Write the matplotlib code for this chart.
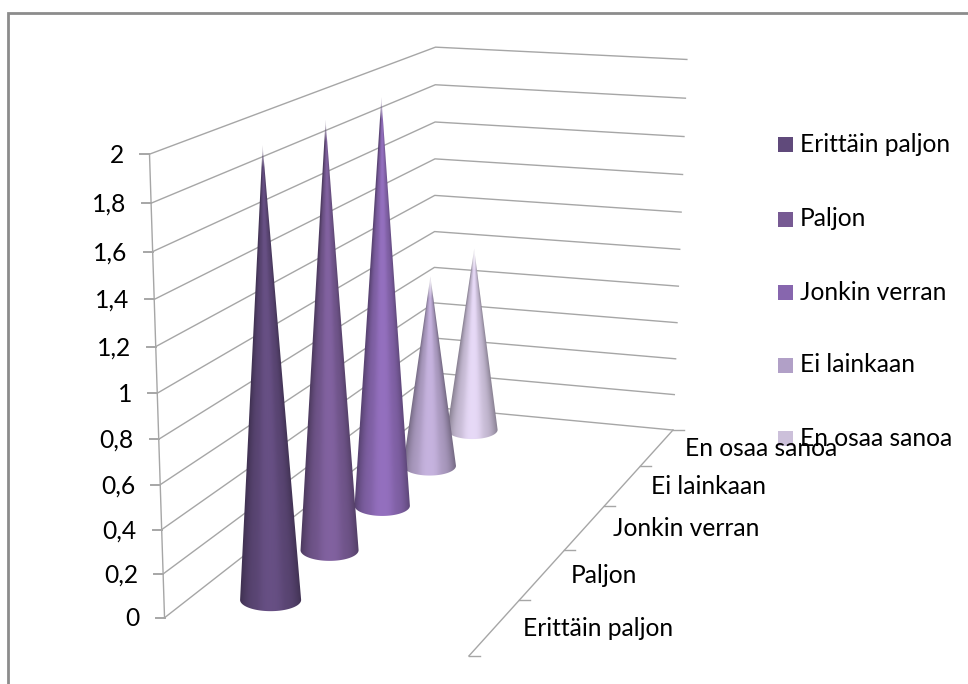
import numpy as np
import matplotlib
matplotlib.use("Agg")
import matplotlib.pyplot as plt
from matplotlib.patches import Polygon, Rectangle

plt.rcParams['font.family'] = ['Lato', 'DejaVu Sans']

categories = ['Erittäin paljon', 'Paljon', 'Jonkin verran', 'Ei lainkaan', 'En osaa sanoa']
values = [2, 2, 2, 1, 1]
colors = ['#604A7B', '#775A93', '#8766AE', '#B1A0C7', '#CCC0DA']
value_ticks = [0, 0.2, 0.4, 0.6, 0.8, 1, 1.2, 1.4, 1.6, 1.8, 2]
value_labels = ['0', '0,2', '0,4', '0,6', '0,8', '1', '1,2', '1,4', '1,6', '1,8', '2']
legend_y = [144, 219, 292, 365, 438]

FONT = 17.7
GRID = '#a6a6a6'
CONE_X = 0.25
RAD_X = 0.105
FLATTEN = 0.37

# box corners (width, depth, value) and where they land on the canvas
world = [(0, 0, 0), (1, 0, 0), (1, 1, 0), (0, 1, 0), (0, 0, 2), (0, 1, 2), (1, 1, 2)]
screen = [(163, 615), (470, 658), (672, 428), (435, 410), (150, 155), (435, 46), (687, 60)]


def fit_camera(world, screen):
    rows = []
    rhs = []
    for (a, b, c), (u, v) in zip(world, screen):
        rows.append([a, b, c, 1, 0, 0, 0, 0, -u * a, -u * b, -u * c])
        rows.append([0, 0, 0, 0, a, b, c, 1, -v * a, -v * b, -v * c])
        rhs += [u, v]
    sol = np.linalg.lstsq(np.array(rows, float), np.array(rhs, float), rcond=None)[0]
    return np.append(sol, 1).reshape(3, 4)


cam = fit_camera(world, screen)


def proj(a, b, c):
    p = cam @ np.array([a, b, c, 1.0])
    return p[0] / p[2], p[1] / p[2]


def draw_cone(ax, depth, height, color):
    base_rgb = np.array(matplotlib.colors.to_rgb(color))
    ax_x, ax_y = proj(CONE_X, depth, height)
    cx, cy = proj(CONE_X, depth, 0)
    half = (proj(CONE_X + RAD_X, depth, 0)[0] - proj(CONE_X - RAD_X, depth, 0)[0]) / 2
    # only the near half of the rim shows, as a level ellipse
    th = np.linspace(0, np.pi, 121)
    rim = np.column_stack([cx + half * np.cos(th), cy + half * FLATTEN * np.sin(th)])
    outline = np.vstack([[(ax_x, ax_y)], rim])

    # shading runs across the cone and narrows towards the tip
    x0, x1 = outline[:, 0].min() - 1, outline[:, 0].max() + 1
    y0, y1 = ax_y - 1, outline[:, 1].max() + 1
    xs = np.linspace(x0, x1, int((x1 - x0) * 3))
    ys = np.linspace(y0, y1, int((y1 - y0) * 2))
    gx, gy = np.meshgrid(xs, ys)
    frac = np.clip((gy - ax_y) / (cy - ax_y), 0.001, 1)
    axis_x = ax_x + (cx - ax_x) * frac
    u = np.clip((gx - axis_x) / (half * frac), -1, 1)
    peak = 1.02 + 0.14 * base_rgb.mean()
    shade = 0.66 + (peak - 0.66) * (1 - np.abs(u) ** 2.2)
    shade -= 0.05 * np.exp(-((np.abs(u) - 0.45) / 0.18) ** 2)
    img = np.zeros(gx.shape + (4,))
    for c in range(3):
        img[..., c] = np.clip(base_rgb[c] * shade, 0, 1)
    # the very tip fades out
    img[..., 3] = np.clip((gy - ax_y) / 22, 0.25, 1)

    im = ax.imshow(img, extent=(x0, x1, y1, y0), origin='upper', aspect='auto',
                   interpolation='bilinear', zorder=3)
    im.set_clip_path(Polygon(outline, closed=True, transform=ax.transData))


fig = plt.figure(figsize=(9.68, 6.84), dpi=100)
ax = fig.add_axes([0, 0, 1, 1])
ax.axis('off')

# outer frame, only left and top fall on the canvas
ax.plot([8, 8, 968], [684, 13, 13], color='#8c8c8c', lw=2, solid_joinstyle='miter')

# walls and value axis
for t, lab in zip(value_ticks, value_labels):
    x0, y0 = proj(0, 0, t)
    x1, y1 = proj(0, 1, t)
    x2, y2 = proj(1, 1, t)
    ax.plot([x0, x1, x2], [y0, y1, y2], color=GRID, lw=1)
    ax.plot([x0 - 9, x0], [y0, y0], color=GRID, lw=1.4)
    ax.text(x0 - 25, y0 + 1, lab, ha='right', va='center', fontsize=FONT, color='black')
ax.plot(*zip(proj(0, 0, 0), proj(0, 0, 2)), color=GRID, lw=1)

# depth axis along the right floor edge
ax.plot(*zip(proj(1, 0, 0), proj(1, 1, 0)), color=GRID, lw=1)
for k in range(6):
    x, y = proj(1, k / 5, 0)
    ax.plot([x, x + 11], [y, y], color=GRID, lw=1)
for k, name in enumerate(categories):
    x, y = proj(1, (k + 0.5) / 5, 0)
    ax.text(x + 28, y + 1, name, ha='left', va='center', fontsize=FONT, color='black', zorder=5)

# far cones first
for k in range(len(values) - 1, -1, -1):
    draw_cone(ax, (k + 0.5) / 5, values[k], colors[k])

# legend
for name, col, y in zip(categories, colors, legend_y):
    ax.add_patch(Rectangle((778, y - 7.5), 15, 15, facecolor=col, edgecolor='none', zorder=4))
    ax.text(800, y, name, ha='left', va='center', fontsize=FONT, color='black', zorder=5)

# imshow resets the limits, so they are fixed last
ax.set_xlim(0, 968)
ax.set_ylim(684, 0)

fig.savefig('out.png', dpi=100)
